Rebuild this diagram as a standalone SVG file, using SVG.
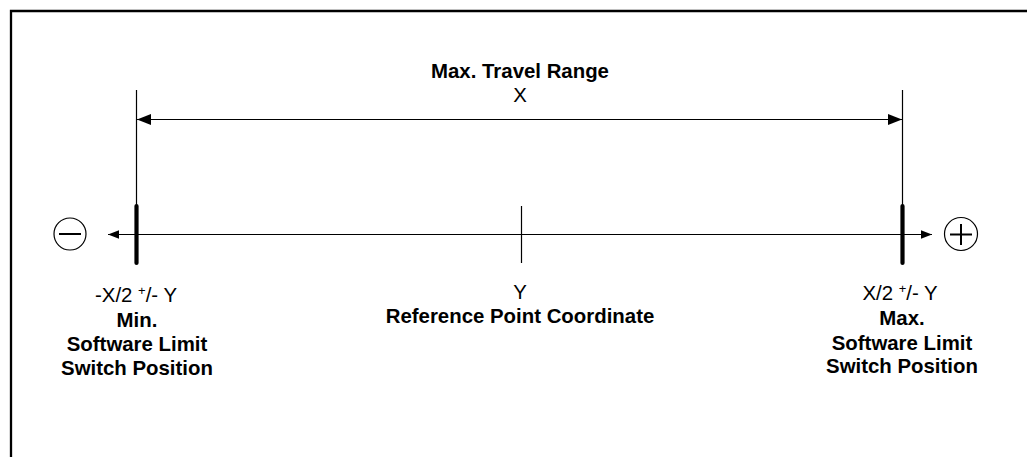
<svg xmlns="http://www.w3.org/2000/svg" width="1027" height="457" viewBox="0 0 1027 457">
<style>
text{font-family:"Liberation Sans",Arial,sans-serif;font-size:20.4px;fill:#000;text-anchor:middle}
.b{font-weight:bold}
.thin{stroke:#000;stroke-width:1.2;fill:none}
.thick{stroke:#000;stroke-width:4.2;stroke-linecap:round;fill:none}
.frame{stroke:#000;stroke-width:2.3;fill:none}
.sym{stroke:#000;stroke-width:1.2;fill:#fff}
.symline{stroke:#000;stroke-width:2;fill:none}
</style>
<defs>
<marker id="bigArrow" markerUnits="userSpaceOnUse" markerWidth="15" markerHeight="12" refX="14" refY="5.5" orient="auto-start-reverse">
<path d="M0,0 L14,5.5 L0,11 z" fill="#000"/>
</marker>
<marker id="smallArrow" markerUnits="userSpaceOnUse" markerWidth="12" markerHeight="10" refX="11" refY="4.3" orient="auto-start-reverse">
<path d="M0,0 L11,4.3 L0,8.6 z" fill="#000"/>
</marker>
</defs>
<rect width="1027" height="457" fill="#fff"/>
<g id="frame">
<polyline class="frame" points="11,457 11,11 1027,11"/>
</g>
<g id="connectors">
<line id="travel-range" class="thin" x1="137" y1="119.5" x2="902" y2="119.5" marker-start="url(#bigArrow)" marker-end="url(#bigArrow)"/>
<line id="axis" class="thin" x1="108" y1="234.5" x2="932" y2="234.5" marker-start="url(#smallArrow)" marker-end="url(#smallArrow)"/>
</g>
<g id="min-limit">
<line class="thin" x1="136.5" y1="90" x2="136.5" y2="210"/>
<line class="thick" x1="136.5" y1="206" x2="136.5" y2="263"/>
<text x="136" y="302">-X/2 <tspan font-size="13" dy="-7">+</tspan><tspan dy="7">/- Y</tspan></text>
<text class="b" x="137" y="326.5">Min.</text>
<text class="b" x="137" y="351">Software Limit</text>
<text class="b" x="137" y="375">Switch Position</text>
</g>
<g id="max-limit">
<line class="thin" x1="902.5" y1="90" x2="902.5" y2="210"/>
<line class="thick" x1="902.5" y1="206" x2="902.5" y2="263"/>
<text x="900" y="299.5">X/2 <tspan font-size="13" dy="-7">+</tspan><tspan dy="7">/- Y</tspan></text>
<text class="b" x="902" y="325">Max.</text>
<text class="b" x="902" y="349.5">Software Limit</text>
<text class="b" x="902" y="373">Switch Position</text>
</g>
<g id="reference-point">
<line class="thin" x1="521.5" y1="206" x2="521.5" y2="263"/>
<text x="520" y="298.5">Y</text>
<text class="b" x="520" y="322.5">Reference Point Coordinate</text>
</g>
<g id="title">
<text class="b" x="520" y="77.5">Max. Travel Range</text>
<text x="520" y="101.5">X</text>
</g>
<g id="minus-symbol">
<circle class="sym" cx="70" cy="234" r="16"/>
<line class="symline" x1="59" y1="234" x2="81" y2="234"/>
</g>
<g id="plus-symbol">
<circle class="sym" cx="961" cy="234" r="16.5"/>
<line class="symline" x1="950" y1="234.5" x2="972" y2="234.5"/>
<line class="symline" x1="961" y1="224" x2="961" y2="245"/>
</g>
</svg>
